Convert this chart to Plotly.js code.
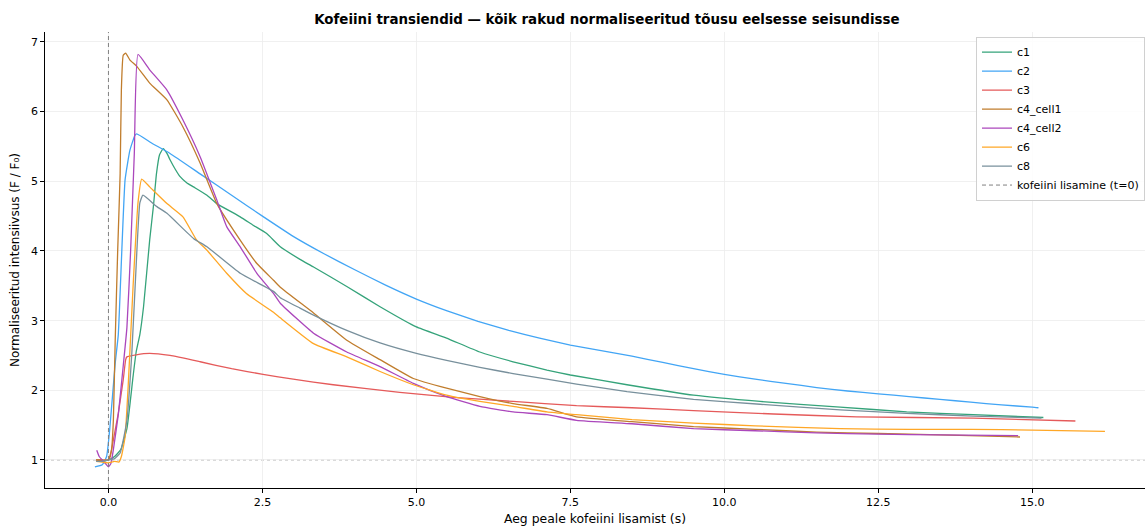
<!DOCTYPE html>
<html>
<head>
<meta charset="utf-8">
<script src="https://cdn.plot.ly/plotly-3.0.1.min.js"></script>
<style>html,body{margin:0;padding:0;background:#fff;}#chart{width:1145px;height:526px;}</style>
</head>
<body>
<div id="chart"></div>
<script>
// ---- data ----
const names = ["c1", "c2", "c3", "c4_cell1", "c4_cell2", "c6", "c8"];
const colors = ["#35a37a", "#42a5f5", "#e55a5a", "#c07d2d", "#ab47bc", "#ffa726", "#78909c"];

const tC1 = [-0.2, -0.1, 0, 0.1, 0.2, 0.3, 0.4, 0.45, 0.51, 0.57, 0.67, 0.73, 0.78, 0.83, 0.89, 0.95, 1.0, 1.08, 1.16, 1.27, 1.38, 1.6, 1.76, 2.14, 2.35, 2.57, 2.79, 3.11, 3.33, 3.87, 4.41, 5.0, 5.49, 6.03, 6.57, 7.12, 7.5, 8.42, 9.5, 10.58, 11.88, 12.96, 14.04, 15.18];
const yC1 = [1.0, 0.98, 1.0, 1.05, 1.15, 1.45, 2.2, 2.55, 2.8, 3.2, 4.16, 4.64, 5.11, 5.38, 5.47, 5.40, 5.31, 5.18, 5.07, 4.98, 4.92, 4.80, 4.68, 4.49, 4.37, 4.25, 4.06, 3.88, 3.77, 3.49, 3.20, 2.91, 2.75, 2.55, 2.41, 2.29, 2.22, 2.08, 1.93, 1.84, 1.76, 1.69, 1.65, 1.61];

const tC2 = [-0.22, -0.1, -0.03, 0.02, 0.11, 0.16, 0.27, 0.35, 0.43, 0.46, 0.7, 1.0, 1.5, 2.0, 2.5, 3.0, 3.5, 4.0, 4.5, 5.0, 5.5, 6.0, 6.5, 7.0, 7.5, 8.0, 8.5, 9.0, 9.5, 10.0, 10.5, 11.0, 11.5, 12.0, 12.5, 13.0, 13.5, 14.0, 14.5, 15.0, 15.1];
const yC2 = [0.90, 0.93, 1.05, 1.43, 2.39, 2.8, 5.02, 5.45, 5.66, 5.68, 5.55, 5.40, 5.10, 4.80, 4.50, 4.21, 3.96, 3.73, 3.51, 3.31, 3.14, 2.99, 2.86, 2.75, 2.65, 2.57, 2.49, 2.40, 2.31, 2.23, 2.16, 2.10, 2.04, 1.99, 1.95, 1.91, 1.87, 1.83, 1.79, 1.76, 1.75];

const tC3 = [-0.2, -0.1, 0, 0.03, 0.08, 0.16, 0.24, 0.28, 0.3, 0.45, 0.67, 1.0, 1.49, 2.0, 2.51, 3.0, 3.65, 4.73, 5.6, 6.57, 7.6, 8.5, 9.5, 10.8, 12.15, 14.04, 15.7];
const yC3 = [1.0, 1.0, 1.0, 1.05, 1.29, 1.67, 2.15, 2.44, 2.48, 2.51, 2.53, 2.50, 2.41, 2.31, 2.23, 2.16, 2.08, 1.97, 1.90, 1.84, 1.78, 1.75, 1.71, 1.66, 1.62, 1.60, 1.56];

const tC4a = [-0.2, -0.1, 0, 0.05, 0.08, 0.11, 0.15, 0.19, 0.21, 0.24, 0.28, 0.35, 0.46, 0.67, 0.95, 1.21, 1.49, 1.76, 2.03, 2.41, 2.68, 2.79, 3.33, 3.87, 4.41, 4.95, 5.49, 6.03, 6.57, 7.12, 7.6, 8.5, 9.5, 10.5, 11.5, 12.5, 13.5, 14.8];
const yC4a = [1.0, 1.0, 1.0, 1.15, 1.57, 2.72, 4.0, 5.11, 6.31, 6.81, 6.84, 6.74, 6.65, 6.41, 6.17, 5.78, 5.26, 4.68, 4.30, 3.82, 3.58, 3.48, 3.11, 2.72, 2.44, 2.17, 2.03, 1.91, 1.81, 1.74, 1.62, 1.55, 1.48, 1.44, 1.40, 1.38, 1.36, 1.33];

const tC4b = [-0.19, -0.15, -0.1, -0.05, 0, 0.04, 0.08, 0.16, 0.24, 0.30, 0.36, 0.42, 0.48, 0.67, 0.95, 1.21, 1.49, 1.76, 1.92, 2.14, 2.41, 2.68, 2.79, 3.33, 3.87, 4.41, 4.95, 5.49, 6.03, 6.57, 7.12, 7.6, 8.5, 9.5, 10.5, 11.5, 12.5, 13.5, 14.77];
const yC4b = [1.14, 1.05, 1.0, 0.95, 0.90, 0.95, 1.15, 1.65, 2.35, 2.9, 4.0, 5.4, 6.82, 6.60, 6.31, 5.88, 5.35, 4.73, 4.35, 4.06, 3.68, 3.39, 3.25, 2.82, 2.55, 2.34, 2.10, 1.91, 1.77, 1.69, 1.65, 1.57, 1.52, 1.45, 1.42, 1.39, 1.37, 1.36, 1.35];

const tC6 = [-0.2, -0.1, 0, 0.1, 0.17, 0.21, 0.27, 0.32, 0.4, 0.48, 0.54, 0.67, 0.95, 1.21, 1.43, 1.6, 1.92, 2.24, 2.68, 2.79, 3.33, 3.87, 4.41, 4.95, 5.49, 6.03, 6.57, 7.12, 7.6, 8.5, 9.5, 10.5, 11.88, 13.0, 14.0, 15.0, 16.18];
const yC6 = [0.98, 0.97, 0.96, 0.98, 0.97, 1.05, 1.33, 2.05, 3.49, 4.69, 5.03, 4.92, 4.68, 4.49, 4.16, 4.01, 3.68, 3.39, 3.12, 3.04, 2.67, 2.48, 2.27, 2.08, 1.93, 1.84, 1.77, 1.69, 1.65, 1.58, 1.53, 1.49, 1.45, 1.44, 1.44, 1.43, 1.41];

const tC8 = [-0.2, -0.1, 0, 0.1, 0.19, 0.3, 0.38, 0.46, 0.51, 0.56, 0.78, 0.95, 1.38, 1.6, 2.14, 2.68, 2.79, 3.11, 3.33, 3.87, 4.41, 5.0, 5.49, 6.03, 6.57, 7.12, 7.6, 8.42, 9.5, 10.58, 11.88, 12.96, 14.04, 15.15];
const yC8 = [0.98, 0.98, 1.0, 1.02, 1.10, 1.57, 2.54, 3.97, 4.69, 4.80, 4.64, 4.54, 4.18, 4.06, 3.68, 3.42, 3.33, 3.18, 3.08, 2.86, 2.68, 2.53, 2.43, 2.33, 2.24, 2.16, 2.09, 1.98, 1.87, 1.80, 1.72, 1.67, 1.63, 1.60];

const xTickVals = [0, 2.5, 5, 7.5, 10, 12.5, 15];
const xTickText = ["0.0", "2.5", "5.0", "7.5", "10.0", "12.5", "15.0"];
const yTickVals = [1, 2, 3, 4, 5, 6, 7];

const titleText = "Kofeiini transiendid — kõik rakud normaliseeritud tõusu eelsesse seisundisse";
const xTitle = "Aeg peale kofeiini lisamist (s)";
const yTitle = "Normaliseeritud intensiivsus (F / F₀)";
const vlineName = "kofeiini lisamine (t=0)";

const xs = [tC1, tC2, tC3, tC4a, tC4b, tC6, tC8];
const ys = [yC1, yC2, yC3, yC4a, yC4b, yC6, yC8];

const traces = names.map((n, i) => ({
  type: "scatter", mode: "lines", name: n,
  x: xs[i], y: ys[i],
  line: {color: colors[i], width: 1.3, shape: "spline", smoothing: 0.4}
}));

const font = "DejaVu Sans, sans-serif";
const layout = {
  width: 1145, height: 526,
  margin: {l: 45, r: 0, t: 32, b: 38},
  paper_bgcolor: "#fff", plot_bgcolor: "#fff",
  font: {family: font, size: 11, color: "#000"},
  title: {text: "<b>" + titleText + "</b>", font: {family: font, size: 13.4, color: "#000"},
          x: 0.53, xanchor: "center", y: 0.964, yanchor: "middle", yref: "container"},
  showlegend: true,
  legend: {x: 1, xanchor: "right", y: 0.99, yanchor: "top",
           bgcolor: "rgba(255,255,255,0.85)", bordercolor: "#d0d0d0", borderwidth: 1,
           font: {family: font, size: 11, color: "#000"}},
  xaxis: {range: [-1.03, 16.83], tickvals: xTickVals, ticktext: xTickText,
          showgrid: true, gridcolor: "#ececec", gridwidth: 0.8, zeroline: false,
          showline: true, linecolor: "#000", linewidth: 1.2,
          ticks: "outside", ticklen: 3.5, tickcolor: "#000",
          tickfont: {family: font, size: 11},
          title: {text: xTitle, font: {family: font, size: 12.4}, standoff: 6}},
  yaxis: {range: [0.598, 7.143], tickvals: yTickVals,
          showgrid: true, gridcolor: "#ececec", gridwidth: 0.8, zeroline: false,
          showline: true, linecolor: "#000", linewidth: 1.2,
          ticks: "outside", ticklen: 3.5, tickcolor: "#000",
          tickfont: {family: font, size: 11},
          title: {text: yTitle, font: {family: font, size: 12}, standoff: 8}},
  shapes: [
    {type: "line", xref: "paper", yref: "y", x0: 0, x1: 1, y0: 1, y1: 1,
     line: {color: "#a0a0a0", width: 0.8, dash: "dot"}, layer: "between"},
    {type: "line", xref: "x", yref: "paper", x0: 0, x1: 0, y0: 0, y1: 1,
     line: {color: "#808080", width: 1, dash: "4px,3px"}, layer: "above",
     showlegend: true, name: vlineName}
  ]
};

Plotly.newPlot("chart", traces, layout, {displayModeBar: false, staticPlot: true});
</script>
</body>
</html>
